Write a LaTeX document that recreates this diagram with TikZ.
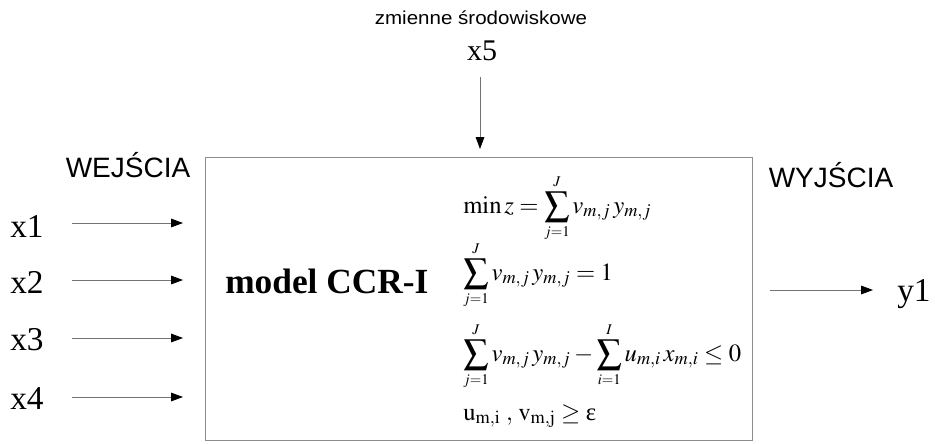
\documentclass[tikz,border=0pt]{standalone}
\usepackage[no-math]{fontspec}
\usepackage{mathptmx}
\setmainfont{Liberation Serif}
\setsansfont{Liberation Sans}
\usetikzlibrary{arrows.meta}
\newcommand{\lsum}[2]{\displaystyle\sum\limits_{\scriptscriptstyle #1}^{\scriptscriptstyle #2}}
\begin{document}
\begin{tikzpicture}[x=0.75pt,y=-0.75pt,
  flow/.style={draw=black!55,line width=0.6pt,-{Triangle[length=9pt,width=6.5pt,fill=black,color=black]}},
  varlab/.style={font=\fontsize{25}{30}\selectfont,anchor=base,inner sep=0pt},
  headlab/.style={font=\sffamily\fontsize{21}{25}\selectfont,anchor=base,inner sep=0pt},
  eqline/.style={font=\fontsize{18.5}{22}\selectfont,anchor=base west,inner sep=0pt}]
\useasboundingbox (0,0) rectangle (935,443);
\fill[white] (0,0) rectangle (935,443);
% box
\node[draw=black!45,line width=0.6pt,minimum width=410.25pt,minimum height=212.25pt,inner sep=0pt] (box) at (478.5,298.5) {};
% top
\node[font=\sffamily\fontsize{14}{17}\selectfont,anchor=base,inner sep=0pt,xscale=1.1] (env) at (481,24) {zmienne środowiskowe};
\node[varlab,font=\fontsize{22.5}{27}\selectfont] (x5) at (482,60) {x5};
\coordinate (x5s) at (480,77);
\coordinate (x5e) at (480,149);
\draw[flow] (x5s) -- (x5e);
% headings
\node[headlab] (in) at (128,177) {WEJŚCIA};
\node[headlab] (out) at (831,187) {WYJŚCIA};
% inputs
\node[varlab] (x1) at (27,237) {x1};
\node[varlab] (x2) at (27,293) {x2};
\node[varlab] (x3) at (27,350) {x3};
\node[varlab] (x4) at (27,409) {x4};
\coordinate (a1s) at (72,223); \coordinate (a1e) at (183,223);
\coordinate (a2s) at (72,280); \coordinate (a2e) at (183,280);
\coordinate (a3s) at (72,338); \coordinate (a3e) at (183,338);
\coordinate (a4s) at (72,397); \coordinate (a4e) at (183,397);
\draw[flow] (a1s) -- (a1e);
\draw[flow] (a2s) -- (a2e);
\draw[flow] (a3s) -- (a3e);
\draw[flow] (a4s) -- (a4e);
% output
\coordinate (bs) at (770,290); \coordinate (be) at (873,290);
\draw[flow] (bs) -- (be);
\node[varlab,anchor=base west] (y1) at (897,301) {y1};
% model
\node[font=\bfseries\fontsize{26.5}{32}\selectfont,anchor=base west,inner sep=0pt] (model) at (225,293) {model CCR-I};
% equations
\node[eqline] (e1) at (463,213) {$\min z=\lsum{j=1}{J} v_{m,j}\,y_{m,j}$};
\node[eqline] (e2) at (463,280) {$\lsum{j=1}{J} v_{m,j}\,y_{m,j}=1$};
\node[eqline] (e3) at (463,361) {$\lsum{j=1}{J} v_{m,j}\,y_{m,j}-\lsum{i=1}{I} u_{m,i}\,x_{m,i}\leq 0$};
\node[eqline] (e4) at (463,420) {$\mathrm{u}_{\mathrm{m,i}}\;,\,\mathrm{v}_{\mathrm{m,j}}\geq\mbox{ε}$};
\end{tikzpicture}
\end{document}
